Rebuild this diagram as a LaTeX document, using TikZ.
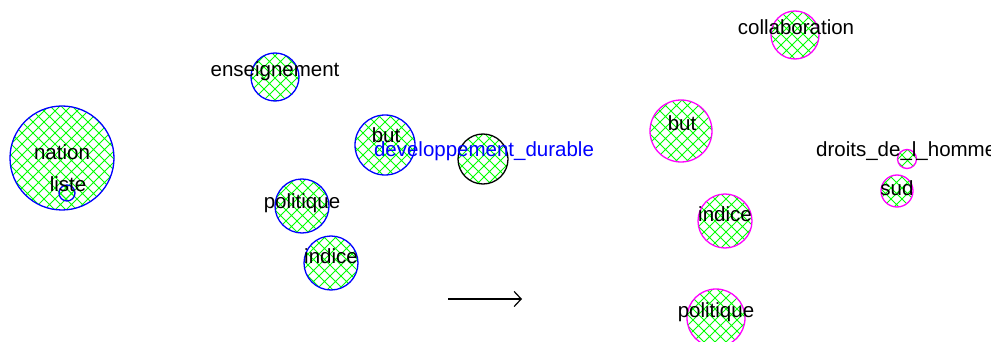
\documentclass[tikz,border=0pt]{standalone}
\usepackage{fontspec}
\setmainfont{Liberation Sans}
\usetikzlibrary{patterns,arrows.meta}
\pgfdeclarepatternformonly{xhatch}{\pgfqpoint{-1pt}{-1pt}}{\pgfqpoint{12pt}{12pt}}{\pgfqpoint{11pt}{11pt}}{%
  \pgfsetlinewidth{1pt}%
  \pgfpathmoveto{\pgfqpoint{0pt}{0pt}}\pgfpathlineto{\pgfqpoint{11pt}{11pt}}%
  \pgfpathmoveto{\pgfqpoint{0pt}{11pt}}\pgfpathlineto{\pgfqpoint{11pt}{0pt}}%
  \pgfusepath{stroke}}
\definecolor{hgreen}{RGB}{0,255,0}
\definecolor{hblue}{RGB}{0,0,255}
\definecolor{hmag}{RGB}{255,0,255}
\tikzset{
  bub/.style={circle, inner sep=0pt, line width=1.3pt, pattern=xhatch, pattern color=hgreen, minimum size=#1},
  lbl/.style={inner sep=0pt, anchor=base, font=\fontsize{20.5}{24}\selectfont},
}
\begin{document}
\begin{tikzpicture}[x=1pt,y=-1pt]
\useasboundingbox (0,0) rectangle (991,342);
% left group (blue)
\node[bub=104pt, draw=hblue] (nation) at (62,158) {};
\node[bub=16pt, draw=hblue] (listec) at (67,193) {};
\node[bub=48pt, draw=hblue] (ens) at (275,77) {};
\node[bub=54pt, draw=hblue] (pol) at (302,206) {};
\node[bub=54pt, draw=hblue] (ind) at (331,263) {};
\node[bub=60pt, draw=hblue] (but) at (385,145) {};
\node[bub=50pt, draw=black] (dd) at (483,159) {};
\node[lbl] (tnation) at (62,160) {nation};
\node[lbl] (tliste) at (68,191) {liste};
\node[lbl] (tens) at (275,77) {enseignement};
\node[lbl] (tpol) at (302,208) {politique};
\node[lbl] (tind) at (331,263) {indice};
\node[lbl] (tbut) at (386,143) {but};
\node[lbl, text=hblue] (tdd) at (484,157) {developpement\_durable};
% arrow
\coordinate (a1) at (448,299);
\coordinate (a2) at (522,299);
\draw[line width=1.2pt, -{Straight Barb[length=7pt,width=15pt]}] (a1) -- (a2);
% right group (magenta)
\node[bub=48pt, draw=hmag] (col) at (795,35) {};
\node[bub=62pt, draw=hmag] (but2) at (681,131) {};
\node[bub=54pt, draw=hmag] (ind2) at (725,221) {};
\node[bub=58pt, draw=hmag] (pol2) at (716,318) {};
\node[bub=19pt, draw=hmag] (dh) at (907,159) {};
\node[bub=32pt, draw=hmag] (sud) at (897,191) {};
\node[lbl] (tcol) at (796,35) {collaboration};
\node[lbl] (tbut2) at (682,131) {but};
\node[lbl] (tind2) at (725,222) {indice};
\node[lbl] (tpol2) at (716,317) {politique};
\node[lbl, anchor=base west] (tdh) at (816,157) {droits\_de\_l\_homme};
\node[lbl] (tsud) at (897,195) {sud};
\end{tikzpicture}
\end{document}
